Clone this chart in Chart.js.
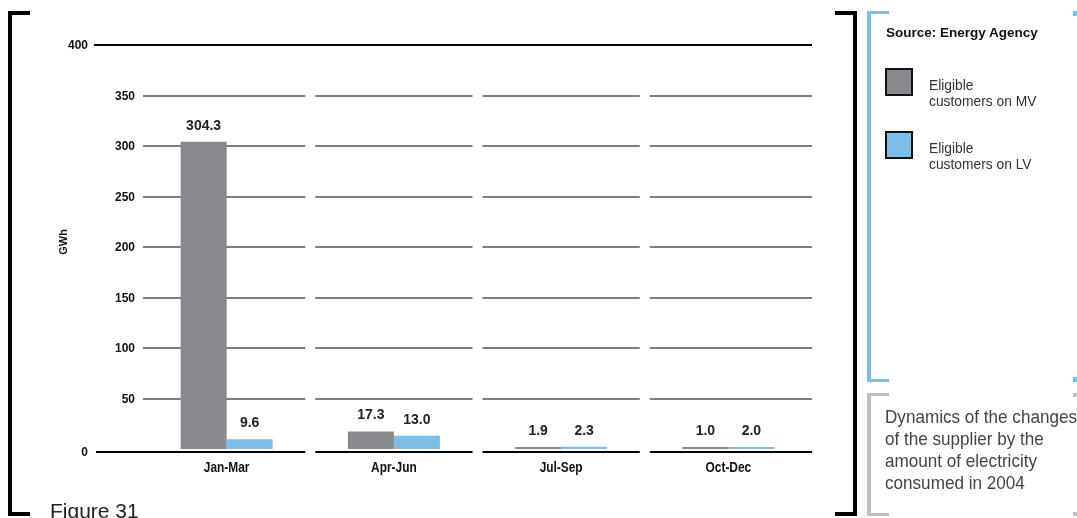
<!DOCTYPE html>
<html><head><meta charset="utf-8">
<script src="https://cdn.jsdelivr.net/npm/chart.js@4/dist/chart.umd.min.js"></script>
<style>
html,body{margin:0;padding:0;background:#fff;}
body{width:1077px;height:518px;position:relative;overflow:hidden;font-family:"Liberation Sans",Arial,sans-serif;}
#c{position:absolute;left:0;top:0;}
.br{position:absolute;}
.txt{position:absolute;white-space:nowrap;}
.cond{transform-origin:left top;}
</style></head><body>
<canvas id="c" width="1077" height="518"></canvas>
<!-- left bracket -->
<div class="br" style="left:8px;top:11px;width:4px;height:505px;background:#000"></div>
<div class="br" style="left:8px;top:11px;width:22px;height:4px;background:#000"></div>
<div class="br" style="left:8px;top:512px;width:22px;height:4px;background:#000"></div>
<div class="txt" style="left:50px;top:500px;font-size:21px;line-height:21px;color:#222;">Figure 31</div>
<!-- right black bracket -->
<div class="br" style="left:853px;top:11px;width:4px;height:505px;background:#000"></div>
<div class="br" style="left:835px;top:11px;width:22px;height:4px;background:#000"></div>
<div class="br" style="left:835px;top:512px;width:22px;height:4px;background:#000"></div>
<!-- blue bracket -->
<div class="br" style="left:867px;top:11px;width:4px;height:371px;background:#7DBEE8"></div>
<div class="br" style="left:867px;top:11px;width:22px;height:3px;background:#7DBEE8"></div>
<div class="br" style="left:867px;top:379px;width:22px;height:3px;background:#7DBEE8"></div>
<div class="br" style="left:1073px;top:11px;width:4px;height:5px;background:#7DBEE8"></div>
<div class="br" style="left:1073px;top:377px;width:4px;height:5px;background:#7DBEE8"></div>
<!-- gray bracket -->
<div class="br" style="left:867px;top:393px;width:4px;height:123px;background:#BDBFC1"></div>
<div class="br" style="left:867px;top:393px;width:22px;height:3px;background:#BDBFC1"></div>
<div class="br" style="left:867px;top:513px;width:22px;height:3px;background:#BDBFC1"></div>
<div class="br" style="left:1073px;top:393px;width:4px;height:4px;background:#BDBFC1"></div>
<div class="br" style="left:1073px;top:512px;width:4px;height:4px;background:#BDBFC1"></div>
<!-- legend -->
<div class="txt" style="left:886px;top:25px;font-size:13.5px;font-weight:bold;color:#111;">Source: Energy Agency</div>
<div id="leg"></div>
<div class="txt cond" style="left:885px;top:406px;font-size:19px;line-height:22px;color:#444;transform:scaleX(0.9)">Dynamics of the changes<br>of the supplier by the<br>amount of electricity<br>consumed in 2004</div>
<script>
const categories = ["Jan-Mar", "Apr-Jun", "Jul-Sep", "Oct-Dec"];
const seriesNames = ["Eligible customers on MV", "Eligible customers on LV"];
const mvValues = [304.3, 17.3, 1.9, 1.0];
const lvValues = [9.6, 13.0, 2.3, 2.0];
const yTicks = [0, 50, 100, 150, 200, 250, 300, 350, 400];
const colors = ["#87898C", "#7DBEE8"];
const FONT = '"Liberation Sans",Arial,sans-serif';

// legend (HTML)
const leg = document.getElementById('leg');
const legTops = [68, 131];
seriesNames.forEach((n, i) => {
  const sq = document.createElement('div');
  sq.className = 'br';
  sq.style.cssText = `left:885px;top:${legTops[i]}px;width:24px;height:24px;border:2px solid #111;background:${colors[i]}`;
  leg.appendChild(sq);
  const t = document.createElement('div');
  t.className = 'txt cond';
  const parts = n.split(' ');
  t.innerHTML = parts[0] + '<br>' + parts.slice(1).join(' ');
  t.style.cssText = `left:929px;top:${legTops[i] + 9}px;font-size:15px;line-height:16px;color:#333;transform:scaleX(0.92)`;
  leg.appendChild(t);
});

function condText(ctx, text, x, y, sx, align) {
  ctx.save();
  ctx.translate(x, y);
  ctx.scale(sx, 1);
  ctx.textAlign = align;
  ctx.fillText(text, 0, 0);
  ctx.restore();
}

const customDraw = {
  id: 'customDraw',
  beforeDatasetsDraw(chart) {
    const ctx = chart.ctx, ca = chart.chartArea;
    const ys = chart.scales.y, xs = chart.scales.x;
    const n = categories.length;
    const cw = (ca.right - ca.left) / n;
    const gap = 5;
    ctx.save();
    yTicks.forEach(v => {
      const y = Math.round(ys.getPixelForValue(v)) + (v === 0 ? 3 : 0);
      const major = (v === 0 || v === 400);
      ctx.strokeStyle = major ? '#000' : '#555';
      ctx.lineWidth = major ? 2 : 1.3;
      if (v === 400) {
        ctx.beginPath(); ctx.moveTo(94, y); ctx.lineTo(ca.right, y); ctx.stroke();
      } else {
        for (let i = 0; i < n; i++) {
          let x0 = ca.left + i * cw + (i === 0 ? 0 : gap);
          let x1 = ca.left + (i + 1) * cw - (i === n - 1 ? 0 : gap);
          if (i === 0 && v === 0) x0 = 96;
          ctx.beginPath(); ctx.moveTo(x0, y); ctx.lineTo(x1, y); ctx.stroke();
        }
      }
      ctx.fillStyle = '#111';
      ctx.font = 'bold 13px ' + FONT;
      ctx.textBaseline = 'middle';
      condText(ctx, String(v), major ? 88 : 135, y, 0.92, 'right');
    });
    // x labels
    ctx.font = 'bold 14px ' + FONT;
    ctx.textBaseline = 'middle';
    categories.forEach((c, i) => {
      condText(ctx, c, xs.getPixelForValue(i), 468, 0.85, 'center');
    });
    // axis title
    ctx.save();
    ctx.translate(64, ys.getPixelForValue(205));
    ctx.rotate(-Math.PI / 2);
    ctx.font = 'bold 11px ' + FONT;
    ctx.textAlign = 'center';
    ctx.textBaseline = 'middle';
    ctx.fillText('GWh', 0, 0);
    ctx.restore();
    ctx.restore();
  },
  afterDatasetsDraw(chart) {
    const ctx = chart.ctx;
    ctx.save();
    ctx.font = 'bold 14px ' + FONT;
    ctx.fillStyle = '#222';
    ctx.textBaseline = 'middle';
    chart.data.datasets.forEach((ds, di) => {
      chart.getDatasetMeta(di).data.forEach((bar, i) => {
        condText(ctx, ds.data[i].toFixed(1), bar.x, bar.y - 16, 1.0, 'center');
      });
    });
    ctx.restore();
  }
};

new Chart(document.getElementById('c'), {
  type: 'bar',
  data: {
    labels: categories,
    datasets: [
      { label: seriesNames[0], data: mvValues, backgroundColor: colors[0], borderWidth: 0, minBarLength: 2 },
      { label: seriesNames[1], data: lvValues, backgroundColor: colors[1], borderWidth: 0, minBarLength: 2 }
    ]
  },
  options: {
    responsive: false,
    animation: false,
    layout: { padding: { left: 143, right: 265, top: 45, bottom: 69 } },
    categoryPercentage: 0.55,
    barPercentage: 1.0,
    plugins: { legend: { display: false }, tooltip: { enabled: false } },
    scales: {
      x: { display: false },
      y: { display: false, min: 0, max: 400 }
    }
  },
  plugins: [customDraw]
});
</script>
</body></html>
